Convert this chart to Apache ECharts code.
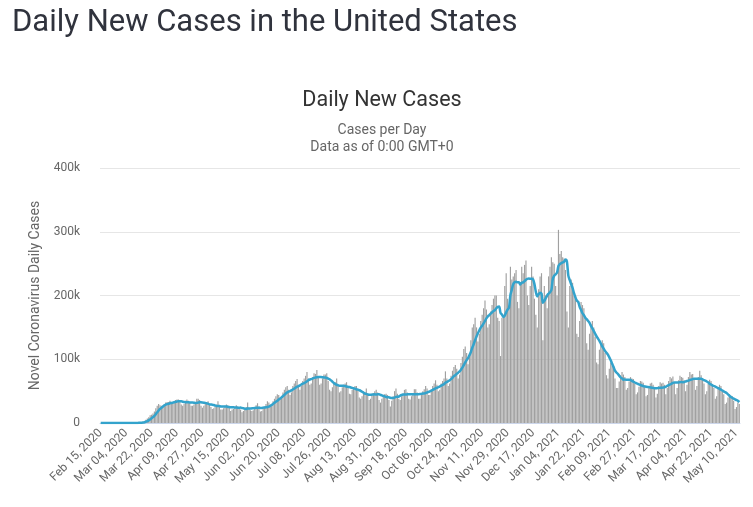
<!DOCTYPE html>
<html>
<head>
<meta charset="utf-8">
<script src="https://cdn.jsdelivr.net/npm/echarts@6/dist/echarts.min.js"></script>
<style>
html,body{margin:0;padding:0;background:#fff;}
#chart{width:753px;height:507px;}
</style>
</head>
<body>
<div id="chart"></div>
<script>
// First category date (year, month 1-12, day); one category per day
const startDate = [2020, 2, 15]; // Feb 15, 2020
const monthNames = ['Jan','Feb','Mar','Apr','May','Jun','Jul','Aug','Sep','Oct','Nov','Dec'];
// y-axis tick labels (values in thousands)
const yTicks = [0, 100, 200, 300, 400];
const yTickLabels = ['0', '100k', '200k', '300k', '400k'];

// Daily new cases, in thousands, one row per week (first day Sat Feb 15, 2020)
const dailyCases = [
  0,0,0,0,0,0,0.002,
  0,0,0,0,0.001,0.002,0.004,
  0.01,0.01,0.02,0.02,0.03,0.04,0.07,
  0.08,0.1,0.12,0.18,0.28,0.4,0.55,
  1.0,1.3,2.0,3.2,5.0,7.0,9.0,
  12,13,15,18,23,27,30,
  28,27,27,30,32,33,33,
  35,30,31,34,36,37,37,
  34,29,27,30,35,37,35,
  33,27,27,29,32,38,38,
  36,27,24,27,31,33,34,
  29,25,22,23,26,29,34,
  27,21,21,23,27,29,28,
  26,19,21,22,26,28,26,
  25,21,17,19,22,25,32,
  24,20,19,20,24,28,31,
  26,18,19,22,26,30,34,
  32,26,28,34,38,42,45,
  44,38,40,48,52,56,58,
  52,44,48,58,62,66,69,
  58,52,58,66,70,74,80,
  70,60,62,72,78,77,83,
  72,60,62,70,76,76,78,
  66,52,50,56,62,64,70,
  60,48,50,56,60,62,64,
  57,46,45,52,55,58,58,
  52,40,38,42,46,48,54,
  46,36,38,44,47,50,52,
  48,36,32,38,42,45,46,
  44,36,26,35,42,50,54,
  46,38,36,42,46,52,53,
  48,38,37,42,46,53,53,
  48,38,38,44,50,53,58,
  54,44,44,52,58,62,67,
  60,50,52,62,66,70,81,
  70,58,62,74,82,88,91,
  85,70,76,94,104,116,120,
  110,92,108,130,150,155,165,
  150,128,140,160,170,180,192,
  178,150,155,175,185,195,200,
  200,165,160,105,165,170,215,
  235,195,180,245,225,230,235,
  240,190,180,220,245,235,248,
  255,200,185,215,245,230,195,
  170,150,210,230,235,130,215,
  200,180,230,245,260,252,250,
  215,200,303,265,270,260,258,
  240,175,150,215,225,220,200,
  195,140,135,160,190,185,180,
  165,125,115,140,155,160,150,
  135,95,92,115,125,130,125,
  110,75,70,85,95,90,90,
  70,55,55,65,75,80,76,
  72,52,55,65,72,70,69,
  62,45,48,57,66,65,63,
  58,42,44,56,62,63,60,
  56,40,46,58,64,62,63,
  60,45,55,66,72,70,73,
  64,45,55,67,74,72,71,
  67,50,60,72,80,76,77,
  70,52,58,72,82,75,70,
  62,45,50,62,68,66,60,
  55,38,42,54,60,58,50,
  45,30,32,40,45,43,42,
  35,22,25,32,30
];

// Category labels, one per day
const categories = [];
{
  const d = new Date(Date.UTC(startDate[0], startDate[1] - 1, startDate[2]));
  for (let i = 0; i < dailyCases.length; i++) {
    const day = String(d.getUTCDate()).padStart(2, '0');
    categories.push(monthNames[d.getUTCMonth()] + ' ' + day + ', ' + d.getUTCFullYear());
    d.setUTCDate(d.getUTCDate() + 1);
  }
}
// 7-day trailing moving average of the daily values
const movingAvg = dailyCases.map((v, i) => {
  const s = dailyCases.slice(Math.max(0, i - 6), i + 1);
  return s.reduce((a, b) => a + b, 0) / s.length;
});

const chart = echarts.init(document.getElementById('chart'), null, {renderer: 'canvas'});
const FONT = 'Roboto';
chart.setOption({
  animation: false,
  backgroundColor: '#ffffff',
  textStyle: {fontFamily: FONT},
  title: [
    {text: 'Daily New Cases in the United States', left: 7, top: 3,
     textStyle: {fontFamily: FONT, fontSize: 31, fontWeight: 'normal', color: '#30333d'}},
    {text: 'Daily New Cases', left: 377, top: 85, textAlign: 'center',
     textStyle: {fontFamily: FONT, fontSize: 21.5, fontWeight: 'normal', color: '#333333'}},
    {text: 'Cases per Day\nData as of 0:00 GMT+0', left: 377, top: 117, textAlign: 'center',
     textStyle: {fontFamily: FONT, fontSize: 14, fontWeight: 'normal', color: '#666666', lineHeight: 17}}
  ],
  grid: {left: 100, right: 13, top: 168, bottom: 84, containLabel: false},
  xAxis: {
    type: 'category',
    data: categories,
    boundaryGap: true,
    axisLine: {lineStyle: {color: '#ccd6eb', width: 1}},
    axisTick: {show: false},
    axisLabel: {interval: 17, rotate: 45, color: '#666666', fontSize: 12, fontFamily: FONT, margin: 8}
  },
  yAxis: {
    type: 'value',
    min: 0, max: 400, interval: 100,
    name: 'Novel Coronavirus Daily Cases',
    nameLocation: 'middle', nameRotate: 90, nameGap: 58,
    nameTextStyle: {color: '#666666', fontSize: 14, fontFamily: FONT},
    axisLine: {show: false},
    axisTick: {show: false},
    splitLine: {lineStyle: {color: '#e6e6e6', width: 1}},
    axisLabel: {color: '#666666', fontSize: 12, fontFamily: FONT, margin: 20,
      formatter: v => yTickLabels[yTicks.indexOf(v)]}
  },
  series: [
    {type: 'bar', data: dailyCases, barCategoryGap: '18%',
     itemStyle: {color: '#a0a0a0'}, silent: true},
    {type: 'line', data: movingAvg, smooth: 0.3, symbol: 'none',
     lineStyle: {color: '#33a3cc', width: 2.5}, silent: true, z: 3}
  ]
});
</script>
</body>
</html>
